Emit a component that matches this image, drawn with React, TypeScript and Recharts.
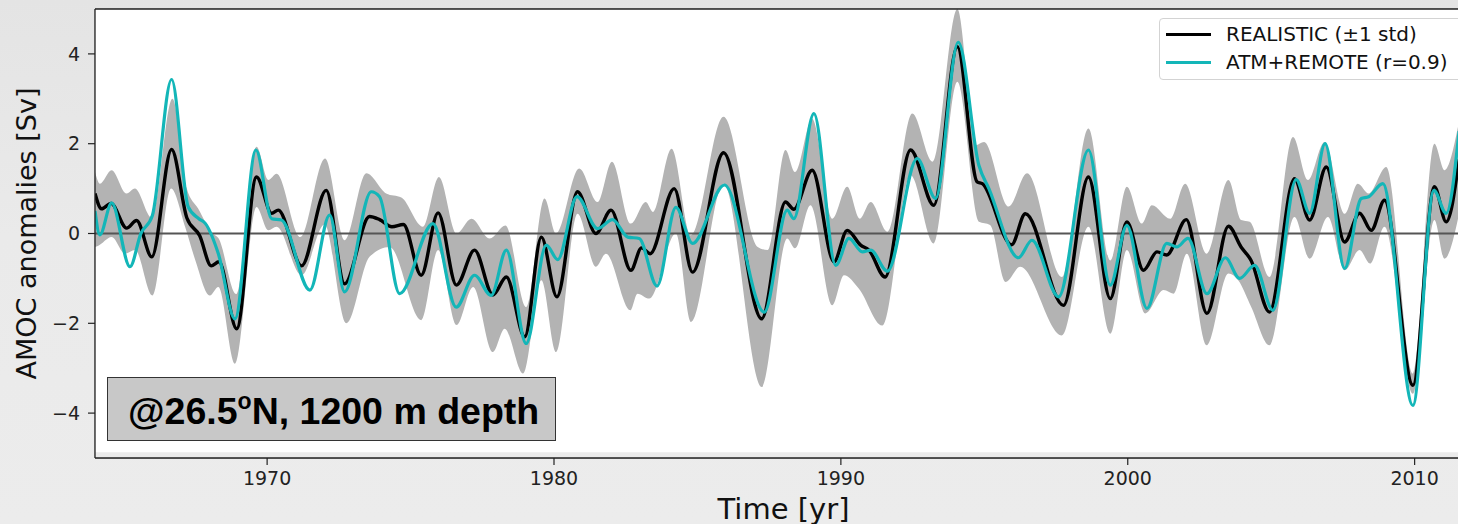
import React from 'react';
import {
  ComposedChart,
  Line,
  Area,
  XAxis,
  YAxis,
  CartesianGrid,
  ReferenceLine,
  ReferenceArea,
} from 'recharts';

// [year, Sv] pairs (extrema and shoulders)
const realisticMean: [number, number][] = [
  [1964.0, 0.89], [1964.23, 0.55], [1964.56, 0.67], [1965.1, 0.12], [1965.45, 0.29],
  [1965.98, -0.52], [1966.67, 1.87], [1967.2, 0.35], [1967.65, -0.05], [1968.05, -0.72],
  [1968.32, -0.63], [1968.94, -2.12], [1969.63, 1.26], [1970.16, 0.45], [1970.39, 0.52],
  [1971.2, -0.72], [1972.06, 0.96], [1972.7, -1.12], [1973.57, 0.38], [1973.92, 0.31],
  [1974.35, 0.15], [1974.75, 0.2], [1975.37, -0.93], [1975.96, 0.46], [1976.6, -1.15],
  [1977.23, -0.37], [1977.87, -1.37], [1978.34, -0.97], [1978.98, -2.3], [1979.56, -0.08],
  [1980.1, -1.41], [1980.82, 0.93], [1981.46, 0.0], [1981.99, 0.52], [1982.68, -0.82],
  [1983.05, -0.32], [1983.35, -0.45], [1984.19, 1.0], [1984.83, -0.86], [1985.91, 1.8],
  [1987.24, -1.9], [1988.07, 0.7], [1988.36, 0.54], [1989.0, 1.41], [1989.76, -0.63],
  [1990.22, 0.07], [1990.69, -0.26], [1990.98, -0.37], [1991.54, -0.97], [1992.43, 1.86],
  [1993.24, 0.63], [1994.06, 4.16], [1994.75, 1.15], [1994.93, 1.11], [1995.95, -0.25],
  [1996.43, 0.44], [1997.76, -1.6], [1998.63, 1.26], [1999.39, -1.45], [1999.97, 0.26],
  [2000.55, -0.82], [2001.02, -0.41], [2001.36, -0.48], [2002.04, 0.31], [2002.76, -1.78],
  [2003.51, 0.16], [2003.95, -0.3], [2004.3, -0.6], [2004.94, -1.75], [2005.81, 1.22],
  [2006.34, 0.3], [2006.92, 1.48], [2007.56, -0.19], [2008.08, 0.45], [2008.49, 0.07],
  [2008.95, 0.74], [2009.94, -3.38], [2010.69, 1.04], [2011.1, 0.26], [2011.55, 1.65],
];

const atmRemote: [number, number][] = [
  [1964.0, 0.5], [1964.17, -0.03], [1964.58, 0.68], [1965.22, -0.74], [1965.6, 0.0],
  [1966.0, 0.4], [1966.67, 3.43], [1967.25, 0.59], [1967.62, 0.33], [1967.85, 0.22],
  [1968.3, -0.45], [1968.88, -1.9], [1969.61, 1.86], [1970.16, 0.33], [1970.5, 0.3],
  [1971.49, -1.26], [1972.18, 0.41], [1972.7, -1.3], [1973.63, 0.93], [1973.92, 0.82],
  [1974.62, -1.34], [1975.78, 0.22], [1976.59, -1.64], [1977.23, -0.93], [1977.81, -1.38],
  [1978.34, -0.37], [1979.03, -2.45], [1979.73, -0.26], [1980.13, -0.58], [1980.8, 0.82],
  [1981.52, 0.11], [1982.04, 0.31], [1982.57, -0.08], [1982.97, -0.11], [1983.59, -1.17],
  [1984.25, 0.58], [1984.83, -0.22], [1985.94, 1.08], [1987.33, -1.75], [1988.13, 0.52],
  [1988.36, 0.33], [1989.06, 2.67], [1989.82, -0.71], [1990.28, -0.11], [1990.75, -0.41],
  [1991.04, -0.37], [1991.62, -0.84], [1992.66, 1.67], [1993.3, 0.78], [1994.09, 4.26],
  [1994.81, 1.52], [1995.16, 1.0], [1996.19, -0.54], [1996.66, -0.15], [1997.59, -1.41],
  [1998.63, 1.86], [1999.39, -1.15], [1999.97, 0.18], [2000.67, -1.67], [2001.36, -0.22],
  [2001.71, -0.3], [2002.1, -0.11], [2002.76, -1.34], [2003.4, -0.54], [2003.9, -1.0],
  [2004.42, -0.71], [2005.06, -1.71], [2005.87, 1.2], [2006.34, 0.45], [2006.88, 2.0],
  [2007.56, -0.78], [2008.14, 0.78], [2008.4, 0.82], [2008.89, 1.11], [2009.94, -3.83],
  [2010.67, 0.96], [2011.1, 0.45], [2011.55, 2.28],
];

// upper and lower edge of the +/-1 std envelope
const stdUpper: [number, number][] = [
  [1964.0, 1.37], [1964.17, 1.11], [1964.58, 1.41], [1965.1, 0.89], [1965.39, 1.0],
  [1965.98, 0.35], [1966.7, 3.0], [1967.2, 1.0], [1967.6, 0.55], [1968.1, 0.0],
  [1968.3, -0.1], [1968.92, -1.35], [1969.63, 1.93], [1970.04, 1.19], [1970.33, 1.33],
  [1971.15, -0.08], [1972.02, 1.67], [1972.7, -0.15], [1973.46, 1.34], [1974.15, 0.89],
  [1974.68, 0.8], [1975.43, 0.15], [1975.99, 1.26], [1976.6, 0.0], [1977.12, 0.33],
  [1977.76, -0.11], [1978.31, 0.18], [1979.03, -1.64], [1979.67, 0.78], [1980.07, 0.0],
  [1980.88, 1.45], [1981.52, 0.7], [1982.02, 1.6], [1982.68, 0.22], [1983.2, 0.7],
  [1983.45, 0.48], [1984.1, 1.89], [1984.77, -0.04], [1985.91, 2.6], [1987.1, -0.3],
  [1987.45, -0.37], [1988.07, 1.86], [1988.4, 1.37], [1989.0, 2.55], [1989.7, 0.33],
  [1990.22, 1.04], [1990.66, 0.33], [1991.04, 0.7], [1991.62, 0.04], [1992.49, 2.67],
  [1993.19, 1.6], [1994.06, 5.0], [1994.7, 1.97], [1994.99, 2.04], [1995.85, 0.6],
  [1996.49, 1.34], [1997.7, -0.97], [1998.63, 2.34], [1999.39, -0.6], [1999.97, 1.04],
  [2000.49, 0.22], [2000.84, 0.63], [2001.48, 0.33], [2002.0, 1.11], [2002.76, -0.45],
  [2003.51, 1.19], [2003.95, 0.3], [2004.25, 0.26], [2004.94, -0.97], [2005.76, 2.15],
  [2006.28, 1.19], [2006.86, 2.04], [2007.56, 0.44], [2008.02, 1.11], [2008.4, 0.89],
  [2009.01, 1.48], [2009.94, -3.12], [2010.69, 2.0], [2011.04, 1.41], [2011.55, 2.5],
];

const stdLower: [number, number][] = [
  [1964.0, -0.3], [1964.1, -0.28], [1964.58, -0.08], [1965.05, -0.45], [1965.4, -0.37],
  [1966.0, -1.38], [1966.65, 1.0], [1967.14, 0.15], [1967.5, -0.6], [1968.0, -1.38],
  [1968.3, -1.19], [1968.88, -2.9], [1969.63, 0.59], [1970.04, 0.07], [1970.33, 0.15],
  [1971.2, -0.93], [1972.0, 0.2], [1972.76, -2.0], [1973.57, -0.52], [1974.27, -0.3],
  [1975.37, -1.93], [1975.96, -0.37], [1976.6, -2.04], [1977.18, -1.19], [1977.87, -2.64],
  [1978.28, -2.12], [1978.92, -3.12], [1979.56, -1.04], [1980.07, -2.64], [1980.82, 0.44],
  [1981.46, -0.74], [1981.81, -0.45], [1982.66, -1.71], [1982.91, -1.34], [1983.32, -1.45],
  [1984.25, 0.0], [1984.77, -1.97], [1985.91, 1.11], [1987.24, -3.42], [1988.13, -0.11],
  [1988.4, -0.33], [1988.94, 0.63], [1989.7, -1.6], [1990.11, -0.93], [1990.63, -1.23],
  [1991.44, -2.05], [1992.43, 1.3], [1993.24, -0.22], [1994.06, 3.38], [1994.81, 0.26],
  [1995.2, 0.19], [1995.74, -1.08], [1996.25, -0.74], [1997.7, -2.27], [1998.63, 0.15],
  [1999.39, -2.23], [1999.97, -0.37], [2000.61, -1.78], [2001.25, -1.26], [2001.6, -1.34],
  [2002.06, -0.45], [2002.76, -2.49], [2003.51, -0.89], [2003.85, -1.04], [2004.3, -1.63],
  [2004.94, -2.49], [2005.81, 0.37], [2006.34, -0.56], [2006.98, 0.37], [2007.56, -0.82],
  [2008.08, -0.37], [2008.45, -0.67], [2008.95, 0.15], [2009.94, -3.57], [2010.69, 0.3],
  [2011.04, -0.56], [2011.55, 0.44],
];

const xTicks = [1970, 1980, 1990, 2000, 2010];
const yTicks = [-4, -2, 0, 2, 4];
const seriesNames = ['REALISTIC (\u00b11 std)', 'ATM+REMOTE (r=0.9)'];
const seriesColors = ['#000000', '#13b6b8'];

const rows = (pts: [number, number][]) => pts.map(([x, v]) => ({ x, v }));

const fmtY = (v: number) => (v < 0 ? '\u2212' + Math.abs(v) : String(v));

const AXIS_FONT = 'DejaVu Sans, sans-serif';

export default function App() {
  return (
    <div
      style={{
        position: 'relative',
        width: 1458,
        height: 524,
        overflow: 'hidden',
        background: 'linear-gradient(to bottom, #e4e4e4 0%, #eaeaea 45%, #ececec 100%)',
      }}
    >
      <style>{'body{margin:0}'}</style>
      <ComposedChart width={1472} height={524} margin={{ top: 9, right: 0, bottom: 0, left: 0 }}>
        <XAxis
          type="number"
          dataKey="x"
          domain={[1964, 2012]}
          ticks={xTicks}
          allowDataOverflow
          height={66}
          tickSize={7}
          tickMargin={7}
          tick={{ fontSize: 19, fill: '#222', fontFamily: AXIS_FONT }}
          axisLine={{ stroke: '#222', strokeWidth: 1.3 }}
          tickLine={{ stroke: '#222', strokeWidth: 1.2 }}
          label={{
            content: (p: any) => (
              <text
                x={p.viewBox.x + p.viewBox.width / 2}
                y={519}
                textAnchor="middle"
                fontSize={29}
                fontFamily={AXIS_FONT}
                fill="#111"
              >
                Time [yr]
              </text>
            ),
          }}
        />
        <YAxis
          type="number"
          domain={[-5, 5]}
          ticks={yTicks}
          allowDataOverflow
          width={95}
          tickSize={7}
          tickMargin={8}
          tickFormatter={fmtY}
          tick={{ fontSize: 19, fill: '#222', fontFamily: AXIS_FONT }}
          axisLine={{ stroke: '#222', strokeWidth: 1.3 }}
          tickLine={{ stroke: '#222', strokeWidth: 1.2 }}
          label={{
            content: (p: any) => {
              const cx = 36;
              const cy = p.viewBox.y + p.viewBox.height / 2;
              return (
                <text
                  x={cx}
                  y={cy}
                  transform={`rotate(-90 ${cx} ${cy})`}
                  textAnchor="middle"
                  fontSize={27}
                  fontFamily={AXIS_FONT}
                  fill="#111"
                >
                  AMOC anomalies [Sv]
                </text>
              );
            },
          }}
        />
        {/* white axes face */}
        <ReferenceArea y1={-5} y2={5} fill="#ffffff" fillOpacity={1} stroke="none" />
        <Area
          data={rows(stdUpper)}
          dataKey="v"
          type="monotone"
          baseValue={-5}
          fill="#b3b3b3"
          fillOpacity={1}
          stroke="none"
          activeDot={false}
          isAnimationActive={false}
        />
        <Area
          data={rows(stdLower)}
          dataKey="v"
          type="monotone"
          baseValue={-5}
          fill="#ffffff"
          fillOpacity={1}
          stroke="none"
          activeDot={false}
          isAnimationActive={false}
        />
        <ReferenceArea y1={-5} y2={-4.87} fill="#ebebeb" fillOpacity={1} stroke="none" />
        <CartesianGrid stroke="#b0b0b0" strokeWidth={1} />
        <ReferenceLine y={0} stroke="#555" strokeWidth={1.8} />
        <ReferenceLine y={5} stroke="#222" strokeWidth={1.3} />
        <Line
          data={rows(realisticMean)}
          dataKey="v"
          type="monotone"
          stroke={seriesColors[0]}
          strokeWidth={3.4}
          dot={false}
          activeDot={false}
          isAnimationActive={false}
        />
        <Line
          data={rows(atmRemote)}
          dataKey="v"
          type="monotone"
          stroke={seriesColors[1]}
          strokeWidth={3.2}
          dot={false}
          activeDot={false}
          isAnimationActive={false}
        />
      </ComposedChart>

      {/* legend, upper right */}
      <div
        style={{
          position: 'absolute',
          left: 1159,
          top: 18,
          width: 310,
          height: 62,
          boxSizing: 'border-box',
          background: 'rgba(255,255,255,0.9)',
          border: '1px solid #d3d3d3',
          borderRadius: 4,
          fontFamily: AXIS_FONT,
          fontSize: 20,
          color: '#111',
        }}
      >
        {seriesNames.map((name, i) => (
          <div
            key={name}
            style={{ position: 'absolute', left: 6, top: 1 + i * 28.4, height: 28, display: 'flex', alignItems: 'center' }}
          >
            <span style={{ display: 'inline-block', width: 45, height: 3, background: seriesColors[i] }} />
            <span style={{ marginLeft: 15, whiteSpace: 'nowrap' }}>{name}</span>
          </div>
        ))}
      </div>

      {/* location annotation */}
      <div
        style={{
          position: 'absolute',
          left: 107,
          top: 377,
          width: 449,
          height: 64,
          boxSizing: 'border-box',
          background: '#c8c8c8',
          border: '1px solid #333',
          fontFamily: 'Liberation Sans, Arial, sans-serif',
          fontWeight: 'bold',
          fontSize: 37.5,
          lineHeight: '62px',
          paddingLeft: 20,
          color: '#000',
          whiteSpace: 'nowrap',
        }}
      >
        <span style={{ position: 'relative', top: 2 }}>
          @26.5<span style={{ fontSize: 23, position: 'relative', top: -15 }}>o</span>N, 1200 m depth
        </span>
      </div>
    </div>
  );
}
